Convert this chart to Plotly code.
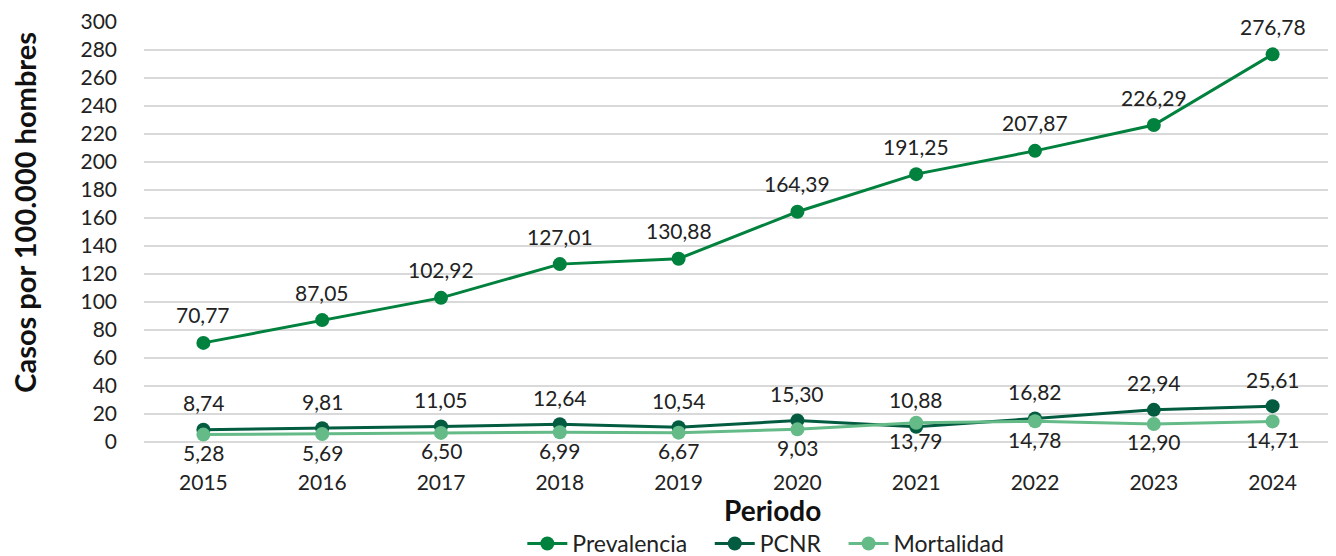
import plotly.graph_objects as go

years = ["2015", "2016", "2017", "2018", "2019", "2020", "2021", "2022", "2023", "2024"]
prevalencia = [70.77, 87.05, 102.92, 127.01, 130.88, 164.39, 191.25, 207.87, 226.29, 276.78]
pcnr = [8.74, 9.81, 11.05, 12.64, 10.54, 15.30, 10.88, 16.82, 22.94, 25.61]
mortalidad = [5.28, 5.69, 6.50, 6.99, 6.67, 9.03, 13.79, 14.78, 12.90, 14.71]

FONT = "Lato"
series = [
    ("Prevalencia", prevalencia, "#00813D", 28),
    ("PCNR", pcnr, "#035C40", 27),
    ("Mortalidad", mortalidad, "#65BB87", -18),
]


def fmt(v):
    return f"{v:.2f}".replace(".", ",")


fig = go.Figure()
annotations = []
for name, vals, color, shift in series:
    fig.add_trace(go.Scatter(
        x=years, y=vals, name=name + "\u00a0\u00a0\u00a0", mode="lines+markers",
        line=dict(color=color, width=3),
        marker=dict(color=color, size=14),
    ))
    # category index for annotations (year strings would be read as indexes)
    for i, v in enumerate(vals):
        annotations.append(dict(
            x=i, y=v, text=fmt(v), showarrow=False, yshift=shift,
            font=dict(family=FONT, size=21, color="#222222"),
        ))

# axis titles as annotations so they can sit off-centre like the original
annotations.append(dict(
    xref="paper", yref="paper", x=-0.1005, y=0.546, textangle=-90,
    xanchor="center", yanchor="middle",
    text="<b>Casos por 100.000 hombres</b>", showarrow=False,
    font=dict(family=FONT, size=29, color="#111111"),
))
annotations.append(dict(
    xref="paper", yref="paper", x=0.529, y=-0.1615,
    xanchor="center", yanchor="middle",
    text="<b>Periodo</b>", showarrow=False,
    font=dict(family=FONT, size=28, color="#111111"),
))

# page body has an 8px margin, so the figure is a bit smaller than the window
fig.update_layout(
    width=1328, height=548,
    margin=dict(l=136, r=4, t=13, b=114, autoexpand=False),
    paper_bgcolor="white", plot_bgcolor="white",
    font=dict(family=FONT, size=21, color="#222222"),
    annotations=annotations,
    showlegend=True,
    legend=dict(orientation="h", x=0.531, xanchor="center", y=-0.19, yanchor="top",
                font=dict(family=FONT, size=23, color="#222222"),
                itemwidth=40, tracegroupgap=0),
    xaxis=dict(
        type="category", range=[-0.5, 9.5],
        showgrid=False, showline=False, ticks="", ticklabelstandoff=26,
        tickfont=dict(family=FONT, size=21, color="#222222"),
    ),
    yaxis=dict(
        range=[0, 300.6], tickvals=list(range(0, 301, 20)),
        showgrid=True, gridcolor="#D9D9D9", gridwidth=1.5,
        zeroline=True, zerolinecolor="#D9D9D9", zerolinewidth=1.5,
        ticks="", ticklabelstandoff=26,
        tickfont=dict(family=FONT, size=21, color="#222222"),
    ),
)

fig.write_html("out.html")
